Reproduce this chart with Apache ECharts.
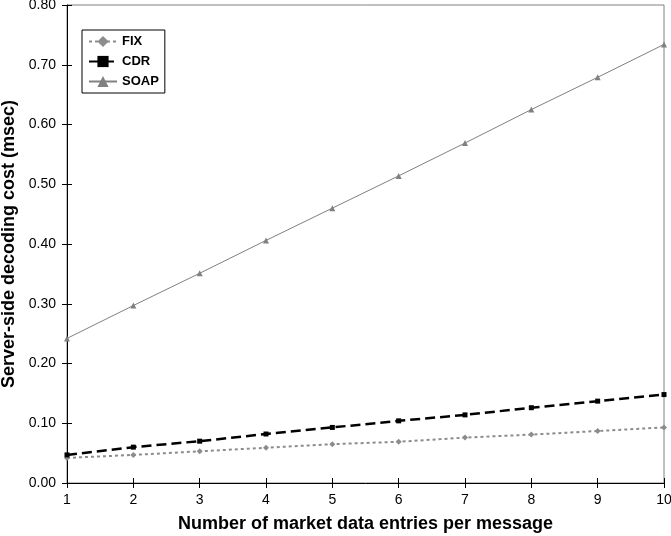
<!DOCTYPE html>
<html>
<head>
<meta charset="utf-8">
<script src="https://cdn.jsdelivr.net/npm/echarts@6/dist/echarts.min.js"></script>
<style>
  html, body { margin: 0; padding: 0; background: #fff; }
  #chart { width: 671px; height: 536px; }
</style>
</head>
<body>
<div id="chart"></div>
<script>
// entries per message
var entries = [1, 2, 3, 4, 5, 6, 7, 8, 9, 10];
// decoding cost (msec)
var fix  = [0.042, 0.047, 0.053, 0.059, 0.065, 0.069, 0.076, 0.081, 0.087, 0.093];
var cdr  = [0.047, 0.060, 0.070, 0.082, 0.093, 0.104, 0.114, 0.126, 0.137, 0.148];
var soap = [0.242, 0.297, 0.351, 0.406, 0.460, 0.514, 0.569, 0.625, 0.679, 0.734];

var font = 'Liberation Sans, Arial, Helvetica, sans-serif';

function pairs(ys) {
  return entries.map(function (x, i) { return [x, ys[i]]; });
}

var chart = echarts.init(document.getElementById('chart'));

var xBase = {
  type: 'value', min: 1, max: 10, interval: 1,
  splitLine: { show: false },
  axisLine: { lineStyle: { color: '#000', width: 1 } }
};
var yBase = {
  type: 'value', min: 0, max: 0.8, interval: 0.1,
  splitLine: { show: false },
  axisLine: { lineStyle: { color: '#000', width: 1 } }
};

var option = {
  animation: false,
  backgroundColor: '#fff',
  textStyle: { fontFamily: font },
  grid: {
    left: 67, right: 7, top: 5, bottom: 53,
    outerBoundsMode: 'none', containLabel: false,
    show: true, borderColor: '#808080', borderWidth: 1
  },
  legend: {
    orient: 'vertical',
    left: 82, top: 30,
    borderColor: '#000', borderWidth: 1,
    padding: [5, 6, 5, 6],
    itemGap: 7, itemWidth: 28, itemHeight: 14,
    textStyle: { fontFamily: font, fontWeight: 'bold', fontSize: 13, color: '#000' },
    data: ['FIX', 'CDR', 'SOAP']
  },
  xAxis: [
    Object.assign({}, xBase, {
      name: 'Number of market data entries per message',
      nameLocation: 'middle', nameGap: 32,
      nameTextStyle: { fontFamily: font, fontWeight: 'bold', fontSize: 18, color: '#000' },
      axisTick: { inside: false, length: 5, lineStyle: { color: '#000' } },
      axisLabel: { color: '#000', fontSize: 14, fontFamily: font, margin: 10 }
    }),
    Object.assign({}, xBase, {
      position: 'bottom',
      axisLine: { show: false },
      axisTick: { inside: true, length: 5, lineStyle: { color: '#000' } },
      axisLabel: { show: false }
    })
  ],
  yAxis: [
    Object.assign({}, yBase, {
      name: 'Server-side decoding cost (msec)',
      nameLocation: 'middle', nameGap: 47,
      nameTextStyle: { fontFamily: font, fontWeight: 'bold', fontSize: 18, color: '#000' },
      axisTick: { inside: false, length: 5, lineStyle: { color: '#000' } },
      axisLabel: {
        color: '#000', fontSize: 14, fontFamily: font, margin: 11,
        formatter: function (v) { return v.toFixed(2); }
      }
    }),
    Object.assign({}, yBase, {
      position: 'left',
      axisLine: { show: false },
      axisTick: { inside: true, length: 5, lineStyle: { color: '#000' } },
      axisLabel: { show: false }
    })
  ],
  series: [
    {
      name: 'FIX', type: 'line', data: pairs(fix),
      symbol: 'diamond', symbolSize: 6,
      itemStyle: { color: '#8c8c8c' },
      lineStyle: { color: '#8c8c8c', width: 2, type: [3, 3] }
    },
    {
      name: 'CDR', type: 'line', data: pairs(cdr),
      symbol: 'rect', symbolSize: 5,
      itemStyle: { color: '#000' },
      lineStyle: { color: '#000', width: 2.5, type: [10, 5] }
    },
    {
      name: 'SOAP', type: 'line', data: pairs(soap),
      symbol: 'triangle', symbolSize: 6,
      itemStyle: { color: '#808080' },
      lineStyle: { color: '#808080', width: 1 }
    }
  ]
};

chart.setOption(option);
</script>
</body>
</html>
